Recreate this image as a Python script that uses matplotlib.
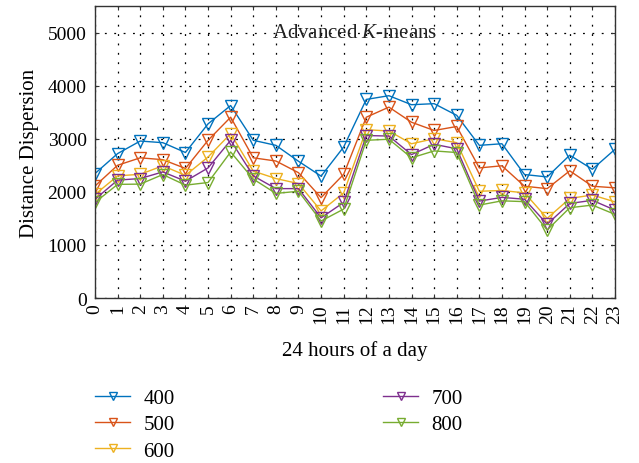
import matplotlib
matplotlib.use("Agg")
import matplotlib.pyplot as plt

plt.rcParams['font.family'] = ['Liberation Serif', 'DejaVu Serif']
plt.rcParams['mathtext.fontset'] = 'custom'
plt.rcParams['mathtext.it'] = 'Liberation Serif:italic'

hours = list(range(24))
labels = ['400', '500', '600', '700', '800']

d400 = [2344, 2720, 2956, 2925, 2740, 3280, 3625, 2970, 2875, 2575, 2295, 2845,
        3740, 3810, 3640, 3660, 3440, 2875, 2905, 2325, 2280, 2690, 2425, 2800]
d500 = [2110, 2500, 2640, 2605, 2440, 2970, 3405, 2640, 2580, 2360, 1890, 2330,
        3405, 3595, 3310, 3155, 3230, 2450, 2490, 2105, 2060, 2395, 2105, 2075]
d600 = [1950, 2300, 2330, 2490, 2310, 2655, 3095, 2390, 2250, 2155, 1640, 1980,
        3170, 3145, 2905, 3000, 2925, 2010, 2025, 1980, 1500, 1875, 1940, 1810]
d700 = [1860, 2220, 2250, 2375, 2200, 2450, 2970, 2300, 2060, 2060, 1510, 1800,
        3060, 3050, 2700, 2895, 2810, 1825, 1895, 1860, 1390, 1780, 1840, 1655]
d800 = [1800, 2140, 2145, 2325, 2125, 2175, 2750, 2240, 1970, 2010, 1450, 1675,
        2970, 2990, 2640, 2770, 2740, 1750, 1830, 1815, 1280, 1700, 1750, 1575]

colors = ['#0072BD', '#D95319', '#EDB120', '#7E2F8E', '#77AC30']

fig = plt.figure(figsize=(6.39, 4.64), dpi=100)
ax = fig.add_axes([0.1487, 0.3556, 0.8137, 0.6294])

for data, lab, c in zip([d400, d500, d600, d700, d800], labels, colors):
    ax.plot(hours, data, color=c, lw=1.0, marker='v', ms=8, mfc='none',
            mew=1.0, label=lab)

ax.set_xlim(0, 23)
ax.set_ylim(0, 5500)
ax.set_xticks(hours)
ax.set_xticklabels([str(h) for h in hours], rotation=90, fontsize=14)
ax.set_yticks([0, 1000, 2000, 3000, 4000, 5000])
ax.tick_params(axis='y', labelsize=14, pad=6)
ax.tick_params(axis='x', pad=4)
ax.tick_params(direction='in', top=True, right=True, length=3, color='#333333')
ax.grid(True, color='black', linestyle=(0, (1.5, 6)), lw=0.9)
for s in ax.spines.values():
    s.set_color('#333333')
    s.set_linewidth(1.0)

ax.text(0.5, 0.91, 'Advanced $K$-means', transform=ax.transAxes, ha='center',
        va='center', fontsize=15, color='#222222')
ax.set_xlabel('24 hours of a day', fontsize=15, labelpad=12)
ax.set_ylabel('Distance Dispersion', fontsize=15, labelpad=6)

fig.legend(loc='upper left', bbox_to_anchor=(0.1357, 0.179), ncol=2,
           frameon=False, fontsize=15, columnspacing=10.0, handlelength=1.7,
           handletextpad=0.62, labelspacing=0.33, borderaxespad=0,
           markerscale=0.75)

fig.savefig('out.png', dpi=100)
